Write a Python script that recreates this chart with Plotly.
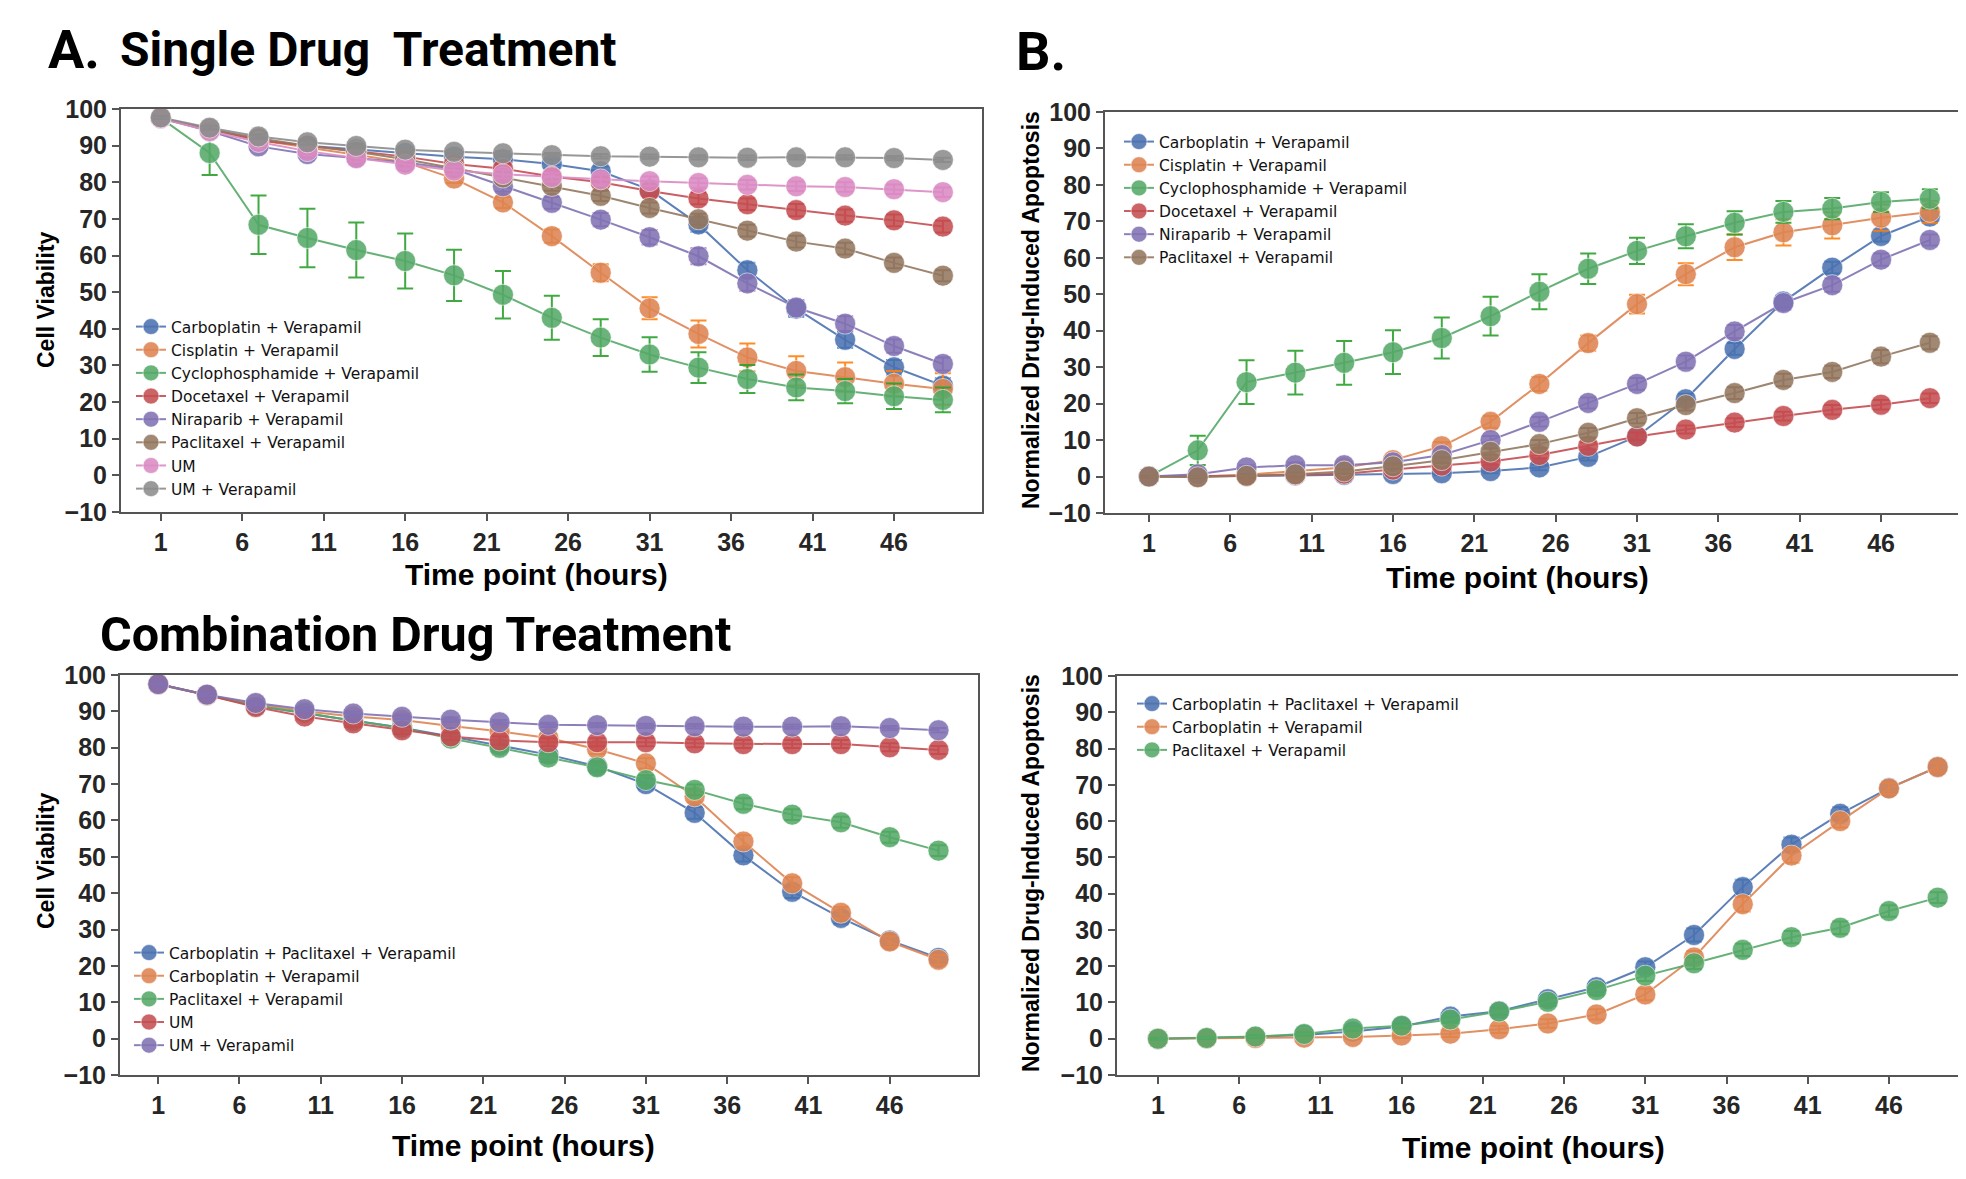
import plotly.graph_objects as go

# page is 1966x1179; the default html body has an 8px margin, so the figure is
# made 16px smaller and every target pixel is shifted by 8px.
PAGE_W, PAGE_H = 1966, 1179
OFF = 8
W, H = PAGE_W - 2 * OFF, PAGE_H - 2 * OFF

# ---------------- data ----------------
time_points = [1, 4, 7, 10, 13, 16, 19, 22, 25, 28, 31, 34, 37, 40, 43, 46, 49]
x_ticks = [1, 6, 11, 16, 21, 26, 31, 36, 41, 46]
y_ticks = [-10, 0, 10, 20, 30, 40, 50, 60, 70, 80, 90, 100]

# Panel A: Single drug, cell viability
A_names = ["Carboplatin + Verapamil", "Cisplatin + Verapamil", "Cyclophosphamide + Verapamil",
           "Docetaxel + Verapamil", "Niraparib + Verapamil", "Paclitaxel + Verapamil",
           "UM", "UM + Verapamil"]
A_carbo = [97.5, 94.5, 91.5, 90.0, 89.0, 88.0, 87.0, 86.3, 85.0, 83.0, 78.0, 68.5, 56.0, 45.5, 37.0, 29.5, 24.5]
A_cis = [97.5, 94.5, 91.5, 89.5, 87.5, 85.5, 81.0, 74.5, 65.3, 55.3, 45.6, 38.6, 32.2, 28.5, 26.8, 25.0, 23.6]
A_cyclo = [97.5, 88.0, 68.4, 64.8, 61.5, 58.5, 54.6, 49.3, 43.0, 37.6, 33.0, 29.4, 26.3, 24.0, 23.0, 21.6, 20.6]
A_doce = [97.5, 94.5, 91.5, 90.0, 88.5, 87.0, 85.0, 83.7, 81.6, 80.0, 77.6, 75.6, 74.0, 72.4, 70.9, 69.6, 67.9]
A_nira = [97.5, 94.0, 89.8, 87.7, 86.6, 85.4, 83.6, 78.9, 74.4, 69.8, 65.0, 59.8, 52.4, 45.8, 41.4, 35.3, 30.4]
A_pacli = [97.5, 94.5, 92.0, 90.0, 88.3, 86.3, 83.8, 81.3, 79.0, 76.3, 73.0, 69.9, 66.8, 63.8, 61.9, 58.0, 54.5]
A_um = [97.5, 94.0, 91.0, 88.5, 86.6, 84.8, 83.2, 82.2, 81.4, 80.8, 80.3, 79.8, 79.3, 78.9, 78.7, 78.1, 77.3]
A_umv = [97.7, 94.9, 92.5, 90.9, 89.9, 88.9, 88.3, 87.9, 87.4, 87.1, 87.0, 86.8, 86.7, 86.8, 86.8, 86.6, 86.1]
A_carbo_err = [0.5, 0.6, 0.8, 0.8, 0.8, 0.9, 1.0, 1.0, 1.2, 1.3, 1.5, 2.0, 2.0, 2.2, 2.2, 2.0, 2.0]
A_cis_err = [0.5, 0.6, 0.8, 0.8, 1.0, 1.0, 1.2, 1.5, 1.8, 2.3, 3.0, 3.7, 3.8, 4.0, 4.0, 3.5, 4.3]
A_cyclo_err = [0.5, 6.0, 8.0, 8.0, 7.5, 7.5, 7.0, 6.5, 6.0, 5.0, 4.7, 4.2, 3.8, 3.5, 3.3, 3.5, 3.4]
A_doce_err = [0.5, 0.6, 0.7, 0.8, 0.9, 1.0, 1.0, 1.2, 1.3, 1.4, 1.5, 1.6, 1.6, 1.7, 1.7, 1.6, 1.6]
A_nira_err = [0.5, 0.7, 1.0, 1.0, 1.0, 1.1, 1.2, 1.4, 1.6, 1.8, 2.0, 2.2, 2.0, 2.0, 2.0, 1.8, 1.8]
A_pacli_err = [0.5, 0.6, 0.7, 0.8, 0.9, 1.0, 1.1, 1.2, 1.3, 1.4, 1.5, 1.5, 1.6, 1.6, 1.6, 1.5, 1.5]
A_um_err = [0.5, 0.6, 0.8, 0.9, 1.0, 1.0, 1.1, 1.2, 1.2, 1.3, 1.3, 1.3, 1.3, 1.3, 1.3, 1.3, 1.3]
A_umv_err = [0.4, 0.5, 0.6, 0.6, 0.6, 0.6, 0.6, 0.6, 0.6, 0.6, 0.6, 0.6, 0.6, 0.6, 0.6, 0.6, 0.6]

# Panel B: Single drug, normalized apoptosis
B_names = ["Carboplatin + Verapamil", "Cisplatin + Verapamil", "Cyclophosphamide + Verapamil",
           "Docetaxel + Verapamil", "Niraparib + Verapamil", "Paclitaxel + Verapamil"]
B_carbo = [0.0, 0.0, 0.2, 0.3, 0.5, 0.7, 0.9, 1.5, 2.5, 5.4, 11.0, 21.2, 35.0, 48.0, 57.3, 66.0, 71.3]
B_cis = [0.0, 0.0, 0.5, 1.5, 2.5, 4.5, 8.3, 15.0, 25.4, 36.6, 47.3, 55.5, 62.9, 67.0, 68.9, 71.0, 72.6]
B_cyclo = [0.0, 7.2, 25.9, 28.5, 31.2, 34.1, 38.0, 44.0, 50.7, 57.0, 61.9, 65.9, 69.6, 72.6, 73.5, 75.3, 76.2]
B_doce = [0.0, 0.0, 0.2, 0.5, 0.8, 1.9, 3.0, 4.1, 5.9, 8.4, 11.0, 12.9, 14.8, 16.6, 18.3, 19.7, 21.5]
B_nira = [0.0, 0.6, 2.5, 3.1, 3.1, 3.9, 5.9, 10.0, 15.0, 20.2, 25.4, 31.5, 39.8, 47.6, 52.5, 59.5, 64.9]
B_pacli = [0.0, -0.2, 0.2, 0.6, 1.4, 2.8, 4.5, 6.8, 8.9, 12.0, 16.0, 19.6, 22.9, 26.5, 28.7, 32.9, 36.7]
B_carbo_err = [0.3, 0.3, 0.3, 0.4, 0.4, 0.5, 0.5, 0.6, 0.8, 1.0, 1.2, 1.5, 1.6, 1.6, 1.6, 1.5, 1.5]
B_cis_err = [0.3, 0.3, 0.4, 0.5, 0.7, 1.0, 1.2, 1.6, 1.9, 2.1, 2.6, 3.0, 3.5, 3.6, 3.6, 3.6, 3.0]
B_cyclo_err = [0.3, 4.0, 6.0, 6.0, 6.0, 6.0, 5.6, 5.3, 4.8, 4.2, 3.6, 3.3, 3.2, 3.0, 2.9, 2.7, 2.6]
B_doce_err = [0.3, 0.3, 0.3, 0.4, 0.5, 0.6, 0.7, 0.8, 0.9, 1.0, 1.0, 1.1, 1.2, 1.2, 1.3, 1.3, 1.3]
B_nira_err = [0.3, 0.4, 0.6, 0.7, 0.7, 0.8, 0.9, 1.1, 1.3, 1.5, 1.6, 1.7, 1.8, 1.8, 1.8, 1.7, 1.5]
B_pacli_err = [0.3, 0.3, 0.4, 0.5, 0.6, 0.7, 0.8, 0.9, 1.1, 1.3, 1.4, 1.5, 1.6, 1.7, 1.7, 1.8, 1.8]

# Panel C: Combination, cell viability
C_names = ["Carboplatin + Paclitaxel + Verapamil", "Carboplatin + Verapamil",
           "Paclitaxel + Verapamil", "UM", "UM + Verapamil"]
C_cpv = [97.4, 94.5, 91.6, 89.5, 87.5, 85.5, 83.1, 80.6, 78.1, 74.9, 70.0, 62.1, 50.4, 40.4, 33.2, 27.0, 22.2]
C_cv = [97.5, 94.5, 92.0, 90.0, 88.6, 87.6, 86.0, 84.5, 82.7, 79.6, 75.7, 66.6, 54.2, 42.7, 34.6, 26.7, 21.7]
C_pv = [97.5, 94.5, 91.5, 89.6, 87.4, 85.5, 82.5, 80.0, 77.3, 74.6, 71.1, 68.4, 64.6, 61.6, 59.5, 55.4, 51.7]
C_um = [97.5, 94.5, 91.2, 88.6, 86.7, 84.8, 83.1, 82.0, 81.5, 81.5, 81.5, 81.2, 81.0, 81.0, 81.0, 80.1, 79.4]
C_umv = [97.5, 94.6, 92.3, 90.6, 89.4, 88.5, 87.7, 87.0, 86.3, 86.2, 86.0, 85.9, 85.8, 85.8, 85.9, 85.4, 84.8]
C_cpv_err = [0.5, 0.6, 0.7, 0.8, 0.9, 1.0, 1.0, 1.1, 1.2, 1.3, 1.4, 1.6, 1.7, 1.7, 1.6, 1.5, 1.3]
C_cv_err = [0.5, 0.6, 0.7, 0.8, 0.9, 1.0, 1.0, 1.1, 1.2, 1.3, 1.4, 1.6, 1.7, 1.7, 1.6, 1.5, 1.3]
C_pv_err = [0.5, 0.6, 0.7, 0.8, 0.9, 1.0, 1.0, 1.1, 1.2, 1.3, 1.4, 1.5, 1.5, 1.5, 1.5, 1.5, 1.5]
C_um_err = [0.5, 0.6, 0.7, 0.8, 0.9, 1.0, 1.0, 1.1, 1.1, 1.1, 1.1, 1.1, 1.1, 1.1, 1.1, 1.1, 1.1]
C_umv_err = [0.4, 0.5, 0.6, 0.6, 0.6, 0.6, 0.6, 0.6, 0.6, 0.6, 0.6, 0.6, 0.6, 0.6, 0.6, 0.6, 0.6]

# Panel D: Combination, normalized apoptosis
D_names = ["Carboplatin + Paclitaxel + Verapamil", "Carboplatin + Verapamil", "Paclitaxel + Verapamil"]
D_cpv = [0.0, 0.2, 0.5, 1.0, 2.0, 3.4, 6.1, 7.6, 10.9, 14.2, 19.7, 28.6, 41.8, 53.5, 62.0, 69.1, 74.9]
D_cv = [0.0, 0.1, 0.2, 0.3, 0.5, 0.9, 1.4, 2.6, 4.2, 6.7, 12.2, 22.4, 37.1, 50.5, 60.0, 69.0, 74.9]
D_pv = [0.0, 0.2, 0.6, 1.3, 2.8, 3.6, 5.3, 7.5, 10.2, 13.4, 17.4, 20.8, 24.5, 28.0, 30.6, 35.2, 38.9]
D_cpv_err = [0.3, 0.3, 0.4, 0.5, 0.6, 0.7, 0.9, 1.0, 1.2, 1.4, 1.6, 1.8, 2.0, 2.0, 1.8, 1.5, 1.3]
D_cv_err = [0.3, 0.3, 0.4, 0.5, 0.6, 0.7, 0.9, 1.0, 1.2, 1.4, 1.6, 1.8, 2.0, 2.0, 1.8, 1.5, 1.3]
D_pv_err = [0.3, 0.3, 0.4, 0.5, 0.6, 0.7, 0.9, 1.0, 1.2, 1.4, 1.5, 1.6, 1.7, 1.7, 1.7, 1.6, 1.5]

# ---------------- styles ----------------
deep = ["#4C72B0", "#DD8452", "#55A868", "#C44E52", "#8172B3", "#937860", "#DA8BC3", "#8C8C8C"]
tab = ["#1f77b4", "#ff7f0e", "#2ca02c", "#d62728", "#9467bd", "#8c564b", "#e377c2", "#7f7f7f"]


def hex_rgba(h, a):
    h = h.lstrip("#")
    return "rgba(%d,%d,%d,%.2f)" % (int(h[0:2], 16), int(h[2:4], 16), int(h[4:6], 16), a)


fig = go.Figure()


def add_series(xa, ya, legend, name, y, err, ci):
    fig.add_trace(go.Scatter(
        x=time_points, y=y, name=name, mode="lines+markers",
        xaxis=xa, yaxis=ya, legend=legend,
        line=dict(color=hex_rgba(deep[ci], 0.9), width=2),
        marker=dict(size=21, color=hex_rgba(deep[ci], 0.88),
                    line=dict(color="rgba(255,255,255,0.55)", width=1)),
        error_y=dict(type="data", array=err, visible=True,
                     color=hex_rgba(tab[ci], 0.9), thickness=2, width=8),
    ))


A_vals = [A_carbo, A_cis, A_cyclo, A_doce, A_nira, A_pacli, A_um, A_umv]
A_errs = [A_carbo_err, A_cis_err, A_cyclo_err, A_doce_err, A_nira_err, A_pacli_err, A_um_err, A_umv_err]
for i, (n, v, e) in enumerate(zip(A_names, A_vals, A_errs)):
    add_series("x", "y", "legend", n, v, e, i)

B_vals = [B_carbo, B_cis, B_cyclo, B_doce, B_nira, B_pacli]
B_errs = [B_carbo_err, B_cis_err, B_cyclo_err, B_doce_err, B_nira_err, B_pacli_err]
for i, (n, v, e) in enumerate(zip(B_names, B_vals, B_errs)):
    add_series("x2", "y2", "legend2", n, v, e, i)

C_vals = [C_cpv, C_cv, C_pv, C_um, C_umv]
C_errs = [C_cpv_err, C_cv_err, C_pv_err, C_um_err, C_umv_err]
for i, (n, v, e) in enumerate(zip(C_names, C_vals, C_errs)):
    add_series("x3", "y3", "legend3", n, v, e, i)

D_vals = [D_cpv, D_cv, D_pv]
D_errs = [D_cpv_err, D_cv_err, D_pv_err]
for i, (n, v, e) in enumerate(zip(D_names, D_vals, D_errs)):
    add_series("x4", "y4", "legend4", n, v, e, i)

# ---------------- axes ----------------
tickfont = dict(family="Liberation Sans, Arial, sans-serif", size=25, color="#262626", weight=700)


def px_x(p):
    return (p - OFF) / W


def px_y(p):
    return 1 - (p - OFF) / H


def xaxis(left, right, rng, anchor):
    return dict(domain=[max(px_x(left), 0.0), min(px_x(right), 1.0)], range=rng, anchor=anchor,
                tickvals=x_ticks, ticks="outside", ticklen=7, tickwidth=1.5, tickcolor="#555555",
                showline=True, linecolor="#555555", linewidth=2, mirror=True,
                showgrid=False, zeroline=False, tickfont=tickfont, automargin=False)


def yaxis(top, bottom, anchor, mirror):
    return dict(domain=[px_y(bottom), px_y(top)], range=[-10, 100], anchor=anchor,
                tickvals=y_ticks, ticks="outside", ticklen=7, tickwidth=1.5, tickcolor="#555555",
                showline=True, linecolor="#555555", linewidth=2, mirror=mirror,
                showgrid=False, zeroline=False, tickfont=tickfont, automargin=False)


leg_font = dict(family="DejaVu Sans, Open Sans, sans-serif", size=15.5, color="#111111")


def legend(xpx, ypx):
    return dict(x=px_x(xpx), y=px_y(ypx), xanchor="left", yanchor="top",
                bgcolor="rgba(0,0,0,0)", font=leg_font, tracegroupgap=0,
                itemclick=False, itemdoubleclick=False)


fig.update_layout(
    width=W, height=H, margin=dict(l=0, r=0, t=0, b=0, autoexpand=False),
    paper_bgcolor="white", plot_bgcolor="white", showlegend=True,
    xaxis=xaxis(121, 982, [-1.44, 51.4], "y"),
    yaxis=yaxis(109, 512, "x", True),
    xaxis2=xaxis(1105, 1958, [-1.70, 50.73], "y2"),
    yaxis2=yaxis(112, 513, "x2", False),
    xaxis3=xaxis(120, 978, [-1.35, 51.43], "y3"),
    yaxis3=yaxis(675, 1075, "x3", True),
    xaxis4=xaxis(1117, 1958, [-1.52, 50.25], "y4"),
    yaxis4=yaxis(676, 1075, "x4", False),
    legend=legend(131, 310),
    legend2=legend(1119, 125),
    legend3=legend(129, 936),
    legend4=legend(1132, 687),
)

# ---------------- text annotations ----------------
title_font = dict(family="Roboto, Liberation Sans, sans-serif", size=48, color="black")
axis_title_font = dict(family="Liberation Sans, Arial, sans-serif", size=30, color="black")
ylab_font = dict(family="Liberation Sans, Arial, sans-serif", size=23, color="black")

ann = []


def add_text(text, xpx, ypx, font, xanchor="left", angle=0):
    ann.append(dict(text=text, x=px_x(xpx), y=px_y(ypx), xref="paper", yref="paper",
                    xanchor=xanchor, yanchor="middle", showarrow=False, font=font,
                    textangle=angle))


add_text("<b>A.</b>", 46, 50, dict(title_font, size=54))
add_text("<b>Single Drug\u00a0 Treatment</b>", 118, 50, title_font)
add_text("<b>B.</b>", 1014, 52, dict(title_font, size=54))
add_text("<b>Combination Drug Treatment</b>", 98, 634, dict(title_font, size=48.5))

add_text("<b>Time point (hours)</b>", 536, 574, axis_title_font, "center")
add_text("<b>Time point (hours)</b>", 1517, 577, axis_title_font, "center")
add_text("<b>Time point (hours)</b>", 523, 1145, axis_title_font, "center")
add_text("<b>Time point (hours)</b>", 1533, 1147, axis_title_font, "center")

add_text("<b>Cell Viability</b>", 46, 300, ylab_font, "center", -90)
add_text("<b>Normalized Drug-Induced Apoptosis</b>", 1031, 310, ylab_font, "center", -90)
add_text("<b>Cell Viability</b>", 46, 861, ylab_font, "center", -90)
add_text("<b>Normalized Drug-Induced Apoptosis</b>", 1031, 873, ylab_font, "center", -90)

fig.update_layout(annotations=ann)

fig.write_html("out.html")
